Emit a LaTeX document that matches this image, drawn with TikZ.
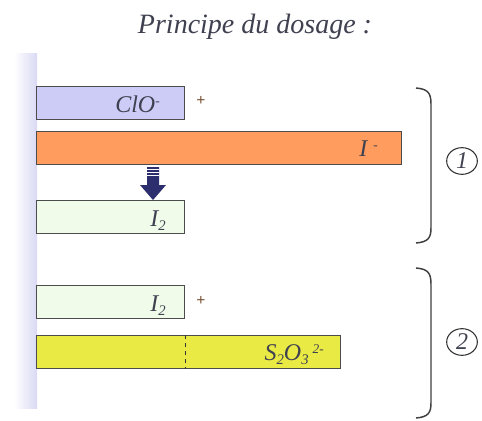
\documentclass[tikz,border=0pt]{standalone}
\usepackage{fontspec}
\setmainfont{Liberation Serif}
\usetikzlibrary{shapes.geometric,calc}
\definecolor{txt}{HTML}{3F4150}
\definecolor{lav}{HTML}{CCCCF7}
\definecolor{org}{HTML}{FF9C5E}
\definecolor{lgreen}{HTML}{F1FBE9}
\definecolor{yel}{HTML}{EAEA45}
\definecolor{navy}{HTML}{2C2E6E}
\definecolor{band}{HTML}{D9D9F5}
\newcommand{\lowsub}[1]{\raisebox{-3.5pt}{\fontsize{11}{12}\selectfont #1}}
\newcommand{\hisup}[1]{\raisebox{5pt}{\fontsize{10}{12}\selectfont #1}}
\tikzset{
  bar/.style={draw=black!70, line width=0.9pt, anchor=north west, inner sep=0pt, minimum height=24.75pt},
  lbl/.style={text=txt, font=\fontsize{18}{20}\selectfont\itshape, anchor=base east, inner sep=0pt},
  plus/.style={text=txt!70!orange, font=\fontsize{12}{12}\selectfont\bfseries, inner sep=0pt},
  brace/.style={draw=black!75, line width=1.1pt},
  num/.style={ellipse, draw=black!80, line width=0.8pt, minimum width=23pt, minimum height=20pt, inner sep=0pt, text=txt, font=\fontsize{18}{20}\selectfont\itshape}
}
\begin{document}
\begin{tikzpicture}[x=0.75pt,y=-0.75pt]
\useasboundingbox (0,0) rectangle (482,421);
\fill[white] (0,0) rectangle (482,421);
% left band
\shade[left color=white, right color=band] (14,53) rectangle (37,408);
% title
\node[text=txt, font=\fontsize{21}{24}\selectfont\itshape] (title) at (255,27) {Principe du dosage :};
% bars
\node[bar, fill=lav, minimum width=111pt] (clo) at (36,86) {};
\node[bar, fill=org, minimum width=273.75pt] (iod) at (36,131) {};
\node[bar, fill=lgreen, minimum width=111pt] (ia) at (36,200) {};
\node[bar, fill=lgreen, minimum width=111pt] (ib) at (36,285) {};
\node[bar, fill=yel, minimum width=228pt] (thio) at (36,335) {};
\draw[dashed, line width=0.9pt, black!80] (ib.east |- thio.north) -- (ib.east |- thio.south);
% labels
\node[lbl] (lclo) at (160,112) {ClO\hisup{-}};
\node[lbl] (liod) at (378,156) {I \hisup{-}};
\node[lbl] (lia) at (166,226) {I\lowsub{2}};
\node[lbl] (lib) at (166,311) {I\lowsub{2}};
\node[lbl] (lthio) at (324,360) {S\lowsub{2}O\lowsub{3}\,\hisup{2-}};
\node[plus] (p1) at (201,101) {+};
\node[plus] (p2) at (201,301) {+};
% arrow
\coordinate (at) at (153,167);
\fill[navy] ($(at)+(-6,0)$) -- ($(at)+(6,0)$) -- ($(at)+(6,18)$) -- ($(at)+(13,18)$) -- ($(at)+(0,33)$) -- ($(at)+(-13,18)$) -- ($(at)+(-6,18)$) -- cycle;
\foreach \k in {2,5,8} \draw[white, line width=0.5pt] ($(at)+(-6,\k)$) -- ($(at)+(6,\k)$);
% braces
\draw[brace] (416,88) .. controls (428,89) and (431,93) .. (431,104) -- (431,228) .. controls (431,238) and (428,242) .. (416,243);
\draw[brace] (416,268) .. controls (428,269) and (431,273) .. (431,284) -- (431,403) .. controls (431,413) and (428,417) .. (416,418);
\node[num] (n1) at (462,161) {1};
\node[num] (n2) at (462,342) {2};
\end{tikzpicture}
\end{document}
